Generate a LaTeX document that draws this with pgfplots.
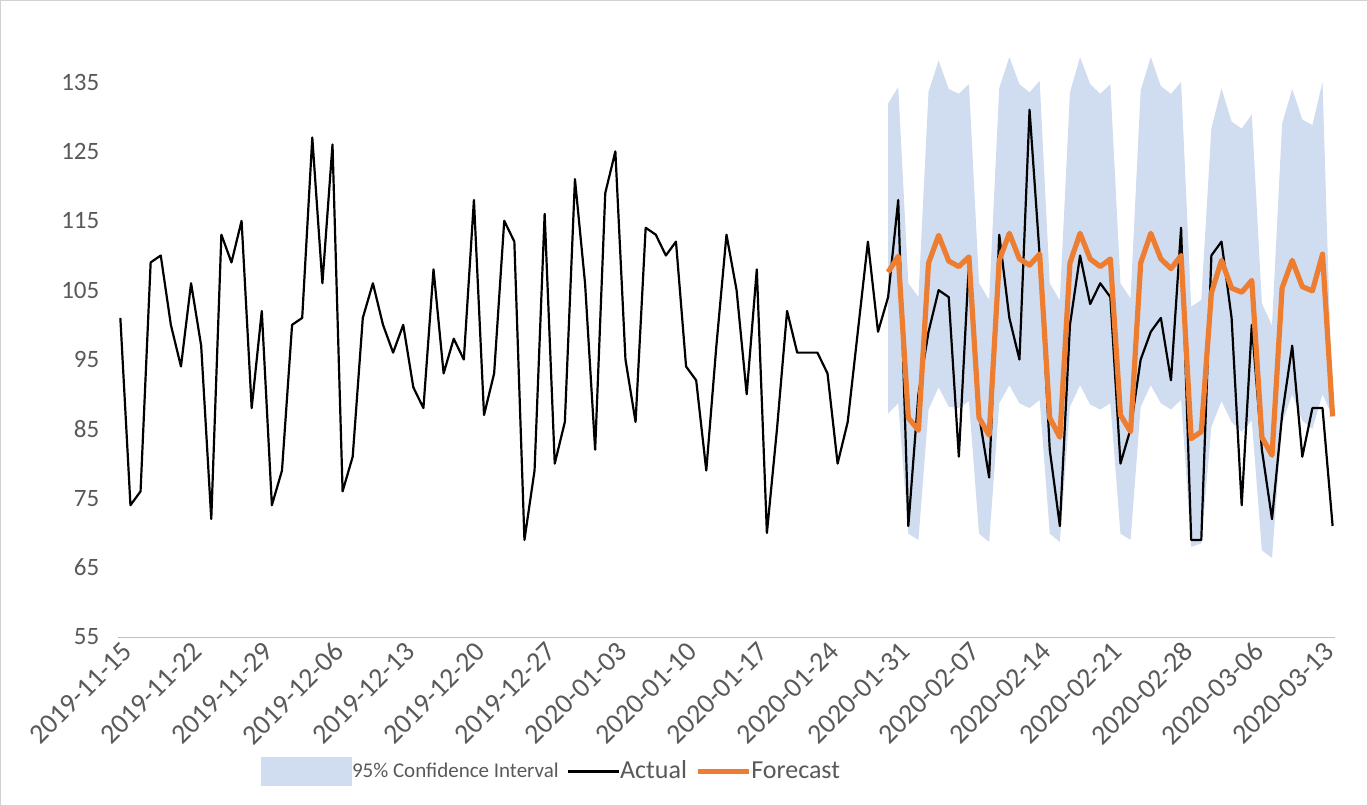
\documentclass[border=0pt]{standalone}
\usepackage{pgfplots}
\pgfplotsset{compat=1.18}
\usepgfplotslibrary{fillbetween}
\usepackage{fontspec}
\setmainfont{Carlito}
\definecolor{ciblue}{HTML}{D0DCF0}
\definecolor{fcorange}{HTML}{ED7D31}
\definecolor{txtgray}{HTML}{595959}
\begin{document}
\begin{tikzpicture}
\path[draw=gray!35] (-59pt,-84pt) rectangle (625pt,318.5pt);
\begin{axis}[
  at={(0,0)}, anchor=south west, scale only axis,
  width=608.5pt, height=295pt,
  xmin=-0.2, xmax=120.2, ymin=55, ymax=140,
  ytick={55,65,...,135},
  axis y line*=left, axis x line*=bottom,
  y axis line style={draw=none},
  x axis line style={draw=gray!50},
  major tick length=0pt,
  xtick={0,7,...,119},
  xticklabels={2019-11-15,2019-11-22,2019-11-29,2019-12-06,2019-12-13,2019-12-20,2019-12-27,2020-01-03,2020-01-10,2020-01-17,2020-01-24,2020-01-31,2020-02-07,2020-02-14,2020-02-21,2020-02-28,2020-03-06,2020-03-13},
  xticklabel style={rotate=45, anchor=north east, font=\fontsize{14}{16}\selectfont, text=txtgray, inner sep=1pt},
  yticklabel style={font=\fontsize{12.5}{14}\selectfont, text=txtgray, xshift=-6pt},
  /pgf/number format/assume math mode=true,
  legend style={at={(0.357,-0.228)}, anchor=center, draw=none, fill=none, legend columns=3,
    font=\fontsize{13}{15}\selectfont, text=txtgray, /tikz/every even column/.append style={column sep=2pt},
    /tikz/every odd column/.append style={column sep=-2pt}},
  legend image code/.code={\draw[#1] (0cm,0cm) -- (0.9cm,0cm);},
  legend cell align=left,
  clip=false,
]
\addplot[name path=up, draw=none, forget plot] coordinates {
(76,131.9)(77,134.3)(78,106)(79,104)(80,133.6)(81,138.1)(82,134)(83,133.3)(84,134.7)(85,106)(86,103.6)(87,134.1)(88,138.6)(89,134.7)(90,133.5)(91,135.2)(92,106)(93,103.5)(94,133.5)(95,138.6)(96,134.7)(97,133.3)(98,134.7)(99,106)(100,103.8)(101,133.8)(102,138.6)(103,134.4)(104,133.3)(105,135)(106,102.6)(107,103.6)(108,128.3)(109,134.1)(110,129.3)(111,128.3)(112,130.3)(113,103.1)(114,99.9)(115,129)(116,134)(117,129.6)(118,128.8)(119,135)(120,86.8)};
\addplot[name path=lo, draw=none, forget plot] coordinates {
(76,87.2)(77,88.7)(78,69.9)(79,69)(80,87.8)(81,91)(82,88.2)(83,88)(84,89)(85,69.9)(86,68.7)(87,88.7)(88,91.3)(89,88.7)(90,88)(91,89.2)(92,69.9)(93,68.7)(94,88.2)(95,91.3)(96,88.5)(97,87.8)(98,88.7)(99,69.9)(100,69)(101,88.2)(102,91.3)(103,88.7)(104,87.8)(105,89.2)(106,68)(107,68.5)(108,85.3)(109,89)(110,86)(111,84.6)(112,86.2)(113,67.5)(114,66.4)(115,85.8)(116,90)(117,86.2)(118,85)(119,90)(120,86.8)};
\addplot[fill=ciblue, draw=none, legend image code/.code={\fill[ciblue] (0cm,-0.25cm) rectangle (1.6cm,0.25cm);}] fill between[of=up and lo];
\addlegendentry{\fontsize{10.5}{12}\selectfont 95\% Confidence Interval}
\addplot[black, line width=1.1pt, line join=round] coordinates {
(0,101)(1,74)(2,76)(3,109)(4,110)(5,100)(6,94)(7,106)(8,97)(9,72)(10,113)(11,109)(12,115)(13,88)(14,102)(15,74)(16,79)(17,100)(18,101)(19,127)(20,106)(21,126)(22,76)(23,81)(24,101)(25,106)(26,100)(27,96)(28,100)(29,91)(30,88)(31,108)(32,93)(33,98)(34,95)(35,118)(36,87)(37,93)(38,115)(39,112)(40,69)(41,79)(42,116)(43,80)(44,86)(45,121)(46,106)(47,82)(48,119)(49,125)(50,95)(51,86)(52,114)(53,113)(54,110)(55,112)(56,94)(57,92)(58,79)(59,97)(60,113)(61,105)(62,90)(63,108)(64,70)(65,85)(66,102)(67,96)(68,96)(69,96)(70,93)(71,80)(72,86)(73,99)(74,112)(75,99)(76,104)(77,118)(78,71)(79,90)(80,99)(81,105)(82,104)(83,81)(84,109)(85,87)(86,78)(87,113)(88,101)(89,95)(90,131)(91,110)(92,82)(93,71)(94,100)(95,110)(96,103)(97,106)(98,104)(99,80)(100,85)(101,95)(102,99)(103,101)(104,92)(105,114)(106,69)(107,69)(108,110)(109,112)(110,101)(111,74)(112,100)(113,82)(114,72)(115,87)(116,97)(117,81)(118,88)(119,88)(120,71)};
\addlegendentry{Actual}
\addplot[fcorange, line width=2.6pt, line join=round] coordinates {
(76,107.6)(77,109.9)(78,86.6)(79,84.8)(80,108.9)(81,112.9)(82,109.2)(83,108.4)(84,109.8)(85,86.6)(86,84.1)(87,109.3)(88,113.2)(89,109.5)(90,108.6)(91,110.2)(92,86.6)(93,83.8)(94,108.9)(95,113.2)(96,109.5)(97,108.4)(98,109.5)(99,87)(100,84.6)(101,108.9)(102,113.2)(103,109.5)(104,108.1)(105,110)(106,83.6)(107,84.6)(108,104.6)(109,109.3)(110,105.3)(111,104.7)(112,106.4)(113,83.8)(114,81.2)(115,105.3)(116,109.3)(117,105.5)(118,104.9)(119,110.2)(120,86.8)};
\addlegendentry{Forecast}
\end{axis}
\end{tikzpicture}
\end{document}
